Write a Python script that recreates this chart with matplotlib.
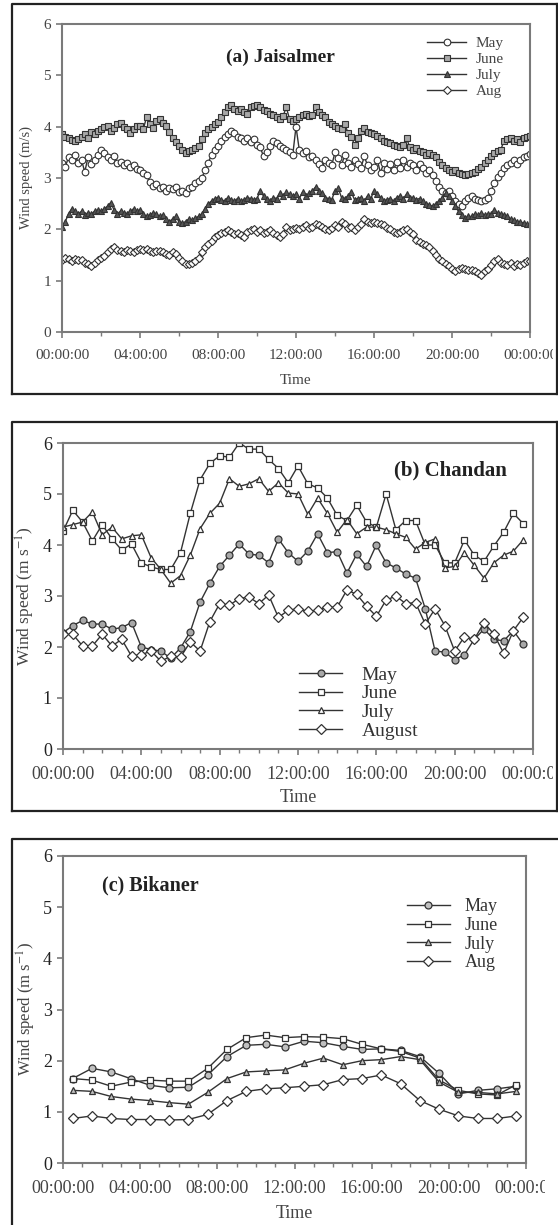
"""Diurnal wind speed at Jaisalmer, Chandan and Bikaner for May-August."""

import matplotlib
matplotlib.use("Agg")
import matplotlib.pyplot as plt
from matplotlib.transforms import Bbox, TransformedBbox

plt.rcParams["font.family"] = ["Liberation Serif", "DejaVu Serif"]
plt.rcParams["mathtext.fontset"] = "stix"

W, H = 558, 1225

# ---- (a) Jaisalmer, 10-minute means ----
jai_hours = [i / 6 for i in range(145)]
jai_may = [3.30, 3.22, 3.40, 3.35, 3.45, 3.30,
           3.35, 3.12, 3.40, 3.28, 3.35, 3.45,
           3.55, 3.48, 3.40, 3.35, 3.42, 3.30,
           3.32, 3.25, 3.30, 3.22, 3.25, 3.18,
           3.15, 3.10, 3.05, 2.92, 2.85, 2.88,
           2.80, 2.82, 2.75, 2.80, 2.78, 2.82,
           2.72, 2.75, 2.70, 2.80, 2.82, 2.90,
           2.95, 3.00, 3.15, 3.30, 3.45, 3.55,
           3.62, 3.72, 3.80, 3.85, 3.92, 3.88,
           3.80, 3.78, 3.72, 3.78, 3.70, 3.75,
           3.65, 3.60, 3.42, 3.50, 3.62, 3.72,
           3.68, 3.62, 3.58, 3.55, 3.50, 3.45,
           4.00, 3.55, 3.48, 3.52, 3.40, 3.42,
           3.35, 3.28, 3.20, 3.35, 3.30, 3.25,
           3.50, 3.38, 3.25, 3.45, 3.30, 3.22,
           3.35, 3.28, 3.20, 3.42, 3.25, 3.15,
           3.22, 3.35, 3.10, 3.30, 3.18, 3.28,
           3.15, 3.32, 3.20, 3.35, 3.22, 3.30,
           3.25, 3.15, 3.28, 3.20, 3.10, 3.15,
           3.05, 2.95, 2.82, 2.75, 2.70, 2.75,
           2.65, 2.55, 2.50, 2.45, 2.55, 2.62,
           2.65, 2.60, 2.58, 2.55, 2.58, 2.62,
           2.75, 2.90, 3.02, 3.10, 3.20, 3.25,
           3.30, 3.35, 3.28, 3.35, 3.40, 3.42,
           3.47]
jai_jun = [3.85, 3.80, 3.78, 3.74, 3.72, 3.76,
           3.80, 3.86, 3.78, 3.90, 3.85, 3.92,
           3.95, 4.00, 4.02, 3.92, 3.98, 4.05,
           4.08, 4.00, 3.95, 3.88, 3.95, 4.02,
           4.02, 3.95, 4.18, 4.05, 3.98, 4.12,
           4.15, 4.08, 4.02, 3.90, 3.78, 3.70,
           3.62, 3.55, 3.48, 3.52, 3.55, 3.58,
           3.62, 3.75, 3.88, 3.95, 4.00, 4.05,
           4.10, 4.18, 4.28, 4.38, 4.42, 4.35,
           4.30, 4.35, 4.28, 4.25, 4.38, 4.40,
           4.42, 4.38, 4.32, 4.30, 4.25, 4.22,
           4.18, 4.15, 4.20, 4.38, 4.15, 4.12,
           4.15, 4.18, 4.22, 4.25, 4.20, 4.22,
           4.38, 4.28, 4.22, 4.18, 4.10, 4.05,
           4.02, 3.98, 3.95, 4.05, 3.88, 3.80,
           3.65, 3.78, 3.92, 3.98, 3.90, 3.88,
           3.85, 3.82, 3.78, 3.72, 3.70, 3.68,
           3.65, 3.62, 3.60, 3.65, 3.78, 3.60,
           3.55, 3.58, 3.52, 3.50, 3.45, 3.48,
           3.45, 3.40, 3.32, 3.25, 3.20, 3.15,
           3.12, 3.15, 3.10, 3.08, 3.05, 3.08,
           3.10, 3.12, 3.18, 3.22, 3.30, 3.35,
           3.42, 3.48, 3.52, 3.55, 3.72, 3.75,
           3.78, 3.72, 3.75, 3.70, 3.78, 3.80,
           3.82]
jai_jul = [2.05, 2.15, 2.30, 2.40, 2.35, 2.30,
           2.35, 2.28, 2.32, 2.30, 2.35, 2.38,
           2.35, 2.40, 2.45, 2.52, 2.38, 2.30,
           2.35, 2.32, 2.30, 2.35, 2.40, 2.35,
           2.38, 2.30, 2.25, 2.28, 2.32, 2.30,
           2.25, 2.28, 2.20, 2.15, 2.20, 2.25,
           2.15, 2.12, 2.15, 2.20, 2.18, 2.22,
           2.25, 2.30, 2.40, 2.50, 2.55, 2.60,
           2.62, 2.58, 2.55, 2.62, 2.58, 2.55,
           2.60, 2.55, 2.58, 2.62, 2.60, 2.58,
           2.60, 2.75, 2.65, 2.60, 2.55, 2.62,
           2.60, 2.70, 2.65, 2.72, 2.68, 2.65,
           2.68, 2.60, 2.72, 2.65, 2.70, 2.75,
           2.82, 2.75, 2.70, 2.62, 2.60, 2.58,
           2.75, 2.80, 2.62, 2.60, 2.65, 2.72,
           2.58, 2.60, 2.62, 2.55, 2.65, 2.60,
           2.75, 2.68, 2.62, 2.55, 2.58, 2.60,
           2.55, 2.62, 2.65, 2.60, 2.68, 2.62,
           2.62, 2.58, 2.60, 2.55, 2.50, 2.48,
           2.45, 2.50, 2.55, 2.62, 2.70, 2.65,
           2.55, 2.45, 2.35, 2.28, 2.22, 2.25,
           2.25, 2.30, 2.28, 2.32, 2.28, 2.30,
           2.30, 2.38, 2.32, 2.30, 2.28, 2.25,
           2.20, 2.18, 2.15, 2.15, 2.12, 2.10,
           2.10]
jai_aug = [1.40, 1.45, 1.42, 1.38, 1.42, 1.40,
           1.40, 1.35, 1.32, 1.28, 1.35, 1.40,
           1.45, 1.48, 1.55, 1.62, 1.65, 1.60,
           1.58, 1.55, 1.60, 1.58, 1.55, 1.60,
           1.62, 1.60, 1.62, 1.58, 1.55, 1.58,
           1.58, 1.55, 1.52, 1.50, 1.55, 1.52,
           1.45, 1.38, 1.33, 1.32, 1.35, 1.38,
           1.45, 1.55, 1.65, 1.72, 1.78, 1.85,
           1.88, 1.92, 1.95, 1.98, 1.95, 1.90,
           1.92, 1.88, 1.85, 1.95, 1.98, 2.00,
           1.95, 1.98, 1.92, 1.95, 1.98, 1.92,
           1.88, 1.85, 1.90, 2.05, 1.98, 2.00,
           2.02, 2.00, 2.05, 2.08, 2.02, 2.05,
           2.10, 2.08, 2.05, 2.00, 1.98, 2.02,
           2.08, 2.05, 2.15, 2.10, 2.02, 2.05,
           1.98, 2.05, 2.10, 2.20, 2.15, 2.12,
           2.15, 2.12, 2.10, 2.08, 2.02, 2.00,
           1.95, 1.92, 1.95, 1.98, 2.00, 1.95,
           1.90, 1.80, 1.75, 1.72, 1.70, 1.65,
           1.58, 1.50, 1.42, 1.38, 1.32, 1.28,
           1.22, 1.18, 1.22, 1.25, 1.22, 1.20,
           1.20, 1.18, 1.15, 1.12, 1.18, 1.22,
           1.30, 1.38, 1.42, 1.35, 1.32, 1.30,
           1.35, 1.28, 1.32, 1.30, 1.35, 1.38,
           1.38]

# ---- (b) Chandan, 30-minute means ----
cha_hours = [i * 0.5 for i in range(48)]
cha_may = [2.28, 2.42, 2.52, 2.45, 2.45, 2.35, 2.38, 2.48,
           2.00, 1.95, 1.92, 1.78, 1.98, 2.30, 2.88, 3.25,
           3.58, 3.80, 4.02, 3.82, 3.80, 3.65, 4.12, 3.85,
           3.68, 3.88, 4.22, 3.85, 3.87, 3.45, 3.82, 3.58,
           4.00, 3.65, 3.55, 3.43, 3.35, 2.75, 1.92, 1.90,
           1.75, 1.85, 2.15, 2.35, 2.15, 2.12, 2.32, 2.05]
cha_jun = [4.27, 4.68, 4.45, 4.08, 4.40, 4.12, 3.90, 4.02,
           3.65, 3.57, 3.52, 3.52, 3.85, 4.62, 5.28, 5.60,
           5.75, 5.72, 6.00, 5.88, 5.88, 5.68, 5.50, 5.22,
           5.55, 5.20, 5.12, 4.92, 4.58, 4.48, 4.78, 4.45,
           4.35, 5.00, 4.30, 4.48, 4.48, 4.00, 4.00, 3.65,
           3.65, 4.10, 3.80, 3.68, 3.98, 4.25, 4.62, 4.42]
cha_jul = [4.35, 4.40, 4.45, 4.65, 4.20, 4.35, 4.12, 4.18,
           4.20, 3.75, 3.52, 3.25, 3.40, 3.80, 4.32, 4.62,
           4.82, 5.30, 5.15, 5.20, 5.30, 5.05, 5.22, 5.02,
           5.00, 4.60, 4.92, 4.62, 4.25, 4.50, 4.22, 4.35,
           4.35, 4.30, 4.22, 4.15, 3.92, 4.05, 4.12, 3.55,
           3.58, 3.85, 3.60, 3.35, 3.65, 3.80, 3.88, 4.10]
cha_aug = [2.25, 2.25, 2.02, 2.02, 2.25, 2.02, 2.15, 1.82,
           1.85, 1.92, 1.72, 1.82, 1.80, 2.10, 1.92, 2.50,
           2.85, 2.82, 2.95, 2.98, 2.85, 3.02, 2.58, 2.72,
           2.75, 2.70, 2.72, 2.78, 2.78, 3.12, 3.03, 2.80,
           2.60, 2.92, 3.00, 2.85, 2.87, 2.45, 2.75, 2.42,
           1.92, 2.20, 2.15, 2.48, 2.25, 1.88, 2.32, 2.58]

# ---- (c) Bikaner, hourly means ----
bik_hours = [i + 0.5 for i in range(24)]
bik_may = [1.65, 1.85, 1.78, 1.65, 1.52, 1.47, 1.48, 1.72,
           2.08, 2.30, 2.32, 2.27, 2.38, 2.35, 2.28, 2.22,
           2.23, 2.20, 2.08, 1.75, 1.35, 1.42, 1.45, 1.50]
bik_jun = [1.65, 1.62, 1.50, 1.58, 1.62, 1.60, 1.60, 1.85,
           2.22, 2.45, 2.50, 2.45, 2.47, 2.46, 2.43, 2.32,
           2.23, 2.18, 2.05, 1.62, 1.42, 1.35, 1.33, 1.53]
bik_jul = [1.42, 1.40, 1.30, 1.25, 1.22, 1.18, 1.15, 1.38,
           1.65, 1.78, 1.80, 1.82, 1.95, 2.05, 1.92, 2.00,
           2.02, 2.08, 2.02, 1.58, 1.38, 1.38, 1.35, 1.40]
bik_aug = [0.87, 0.92, 0.87, 0.85, 0.85, 0.84, 0.85, 0.95,
           1.22, 1.40, 1.45, 1.47, 1.50, 1.53, 1.63, 1.65,
           1.72, 1.55, 1.22, 1.05, 0.92, 0.87, 0.87, 0.92]

tick_hours = [0, 4, 8, 12, 16, 20, 24]
tick_labels = ["00:00:00", "04:00:00", "08:00:00", "12:00:00",
               "16:00:00", "20:00:00", "00:00:00"]

INK = "#333333"
AXC = "#7a7a7a"


def px(x0, y0, x1, y1):
    """pixel box (top-left origin) -> figure-fraction rect"""
    return [x0 / W, 1 - y1 / H, (x1 - x0) / W, (y1 - y0) / H]


def frame(fig, x0, y0, x1, y1, right=True, bottom=True):
    top = 1 - y0 / H
    bot = 1 - y1 / H
    kw = dict(color="#222222", lw=1.6, transform=fig.transFigure)
    fig.add_artist(plt.Line2D([x0 / W, x0 / W, x1 / W], [bot, top, top], **kw))
    if right:
        fig.add_artist(plt.Line2D([x1 / W, x1 / W], [top, bot], **kw))
    if bottom:
        fig.add_artist(plt.Line2D([x0 / W, x1 / W], [bot, bot], **kw))


def style_axes(fig, ax, minor_step, tick_fs, ytick_color, clip_x, ylabel,
               ylabel_fs, ylab_x, time_y, time_fs):
    ax.set_xlim(0, 24)
    ax.set_ylim(0, 6)
    ax.set_yticks(range(7))
    ax.set_xticks(tick_hours, labels=tick_labels)
    ax.set_xticks([h * minor_step for h in range(int(24 / minor_step) + 1)],
                  minor=True)
    for s in ax.spines.values():
        s.set_color(AXC)
        s.set_linewidth(1.5)
    ax.tick_params(axis="both", which="major", direction="out", length=4,
                   width=1.2, color=AXC, labelsize=tick_fs, labelcolor="#444444",
                   pad=4)
    ax.tick_params(axis="y", labelcolor=ytick_color)
    ax.tick_params(axis="x", which="minor", direction="out", length=3,
                   width=1.0, color=AXC)
    ax.tick_params(axis="x", which="major", pad=8)
    # last "00:00:00" runs into the panel border and gets cut there
    clip = TransformedBbox(Bbox.from_extents(0, 0, clip_x / W, 1),
                           fig.transFigure)
    for lab in ax.get_xticklabels():
        lab.set_clip_on(True)
        lab.set_clip_box(clip)
    ax.set_ylabel(ylabel, fontsize=ylabel_fs, color="#444444")
    ax.yaxis.set_label_coords(ylab_x, 0.5)
    pos = ax.get_position()
    fig.text(0.5 * (pos.x0 + pos.x1), 1 - time_y / H, "Time", ha="center",
             va="center", fontsize=time_fs, color="#444444")


def series(ax, x, y, marker, face, ms, label, lw=1.0, mew=0.9):
    ax.plot(x, y, color=INK, lw=lw, marker=marker, ms=ms, mfc=face,
            mec=INK, mew=mew, label=label)


fig = plt.figure(figsize=(W / 100, H / 100), dpi=100)

# panel frames
frame(fig, 12, 4, 557, 394)
frame(fig, 12, 422, 557, 811)
frame(fig, 12, 839, 600, 1300, right=False, bottom=False)

# (a) Jaisalmer
ax_a = fig.add_axes(px(62, 24, 530, 332))
series(ax_a, jai_hours, jai_may, "o", "white", 4.8, "May", lw=1.0, mew=0.8)
series(ax_a, jai_hours, jai_jun, "s", "#a8a8a8", 4.4, "June", lw=1.0, mew=0.8)
series(ax_a, jai_hours, jai_jul, "^", "#555555", 4.8, "July", lw=1.0, mew=0.8)
series(ax_a, jai_hours, jai_aug, "D", "white", 4.0, "Aug", lw=1.0, mew=0.8)
style_axes(fig, ax_a, 2, 11, "#444444", 553, "Wind speed (m/s)", 10.5,
           -0.062, 381, 11)
ax_a.text(11.2, 5.35, "(a) Jaisalmer", ha="center", va="center",
          fontsize=14, fontweight="bold", color="#222222")
ax_a.legend(loc="upper right", bbox_to_anchor=(0.97, 1.0), frameon=False,
            fontsize=11, handlelength=2.6, labelspacing=0.15, borderpad=0.3,
            handletextpad=0.6, labelcolor="#444444")

# (b) Chandan
ax_b = fig.add_axes(px(63, 443, 533, 749))
series(ax_b, cha_hours, cha_may, "o", "#a8a8a8", 5.0, "May")
series(ax_b, cha_hours, cha_jun, "s", "white", 5.0, "June")
series(ax_b, cha_hours, cha_jul, "^", "white", 5.0, "July")
series(ax_b, cha_hours, cha_aug, "D", "white", 4.6, "August")
style_axes(fig, ax_b, 1, 13, "#222222", 553, r"Wind speed (m s$^{-1}$)", 12.5,
           -0.055, 797, 13)
ax_b.text(19.8, 5.47, "(b) Chandan", ha="center", va="center",
          fontsize=15, fontweight="bold", color="#222222")
ax_b.legend(loc="lower left", bbox_to_anchor=(0.47, -0.02), frameon=False,
            fontsize=14, handlelength=2.2, labelspacing=0.05, borderpad=0.3,
            handletextpad=1.0, labelcolor="#333333")

# (c) Bikaner
ax_c = fig.add_axes(px(63, 856, 526, 1163))
series(ax_c, bik_hours, bik_may, "o", "#c0c0c0", 5.0, "May")
series(ax_c, bik_hours, bik_jun, "s", "white", 5.0, "June")
series(ax_c, bik_hours, bik_jul, "^", "#c0c0c0", 5.0, "July")
series(ax_c, bik_hours, bik_aug, "D", "white", 4.6, "Aug")
style_axes(fig, ax_c, 1, 13, "#222222", 545, r"Wind speed (m s$^{-1}$)", 12,
           -0.055, 1214, 13)
ax_c.text(4.5, 5.43, "(c) Bikaner", ha="center", va="center",
          fontsize=14.5, fontweight="bold", color="#222222")
ax_c.legend(loc="upper right", bbox_to_anchor=(0.97, 0.91), frameon=False,
            fontsize=13, handlelength=2.4, labelspacing=0.1, borderpad=0.3,
            handletextpad=0.8, labelcolor="#333333")

fig.savefig("out.png", dpi=100)
